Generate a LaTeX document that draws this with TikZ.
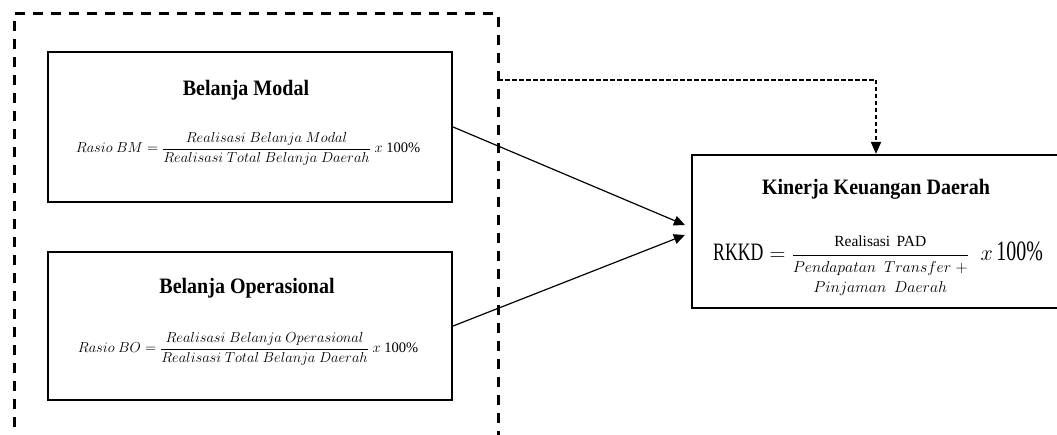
\RequirePackage{fix-cm}
\documentclass[tikz,border=0pt]{standalone}
\usepackage{amsmath}
\usepackage{fontspec}
\setmainfont{Liberation Serif}
\newfontfamily\ttlfont[FakeStretch=0.91]{Liberation Serif}
\newfontfamily\condfont[FakeStretch=0.71]{Liberation Serif}
\usetikzlibrary{arrows.meta}
\tikzset{
  varbox/.style={draw, line width=2.2pt, minimum width=404pt, inner sep=0pt},
  ttl/.style={font=\ttlfont\bfseries\fontsize{22}{26}\selectfont, inner sep=0pt},
  frm/.style={font=\fontsize{14.5}{17}\selectfont, inner sep=0pt},
  arr/.style={line width=1.2pt, -{Triangle[length=11pt,width=10pt]}},
  dasharr/.style={line width=1.9pt, dash pattern=on 4.5pt off 2.5pt, -{Triangle[length=12pt,width=10pt]}},
  grpline/.style={line width=3pt, dash pattern=on 10pt off 8pt},
}
\begin{document}
\begin{tikzpicture}[x=1pt,y=-1pt]
\useasboundingbox (0,0) rectangle (1057,435);
% outer dashed group
\draw[grpline] (14,445) -- (14,14) -- (498,14) -- (498,445);
\coordinate (gR) at (498,80);
% boxes
\node[varbox, minimum height=150pt] (bm) at (250,127) {};
\node[varbox, minimum height=148pt] (bo) at (250,326) {};
\node[draw, line width=2.2pt, minimum width=368pt, minimum height=153pt, inner sep=0pt] (kk) at (876,231.5) {};
% texts
\node[ttl, anchor=base] (bmt) at (246,96) {Belanja Modal};
\node[frm, anchor=base] (bmf) at (248,152.5) {$Rasio\ BM = \dfrac{Realisasi\ Belanja\ Modal}{Realisasi\ Total\ Belanja\ Daerah}\ x\ \text{100\%}$};
\node[ttl, anchor=base] (bot) at (247,294) {Belanja Operasional};
\node[frm, anchor=base] (bof) at (248,352.5) {$Rasio\ BO = \dfrac{Realisasi\ Belanja\ Operasional}{Realisasi\ Total\ Belanja\ Daerah}\ x\ \text{100\%}$};
\node[ttl, anchor=base] (kkt) at (876,195) {Kinerja Keuangan Daerah};
\node[anchor=base west, inner sep=0pt, font=\fontsize{22}{26}\selectfont] (kkf) at (713,261)
  {$\text{\condfont\fontsize{25}{28}\selectfont RKKD} = \dfrac{\text{\fontsize{15.5}{17}\selectfont Realisasi\hspace{2.5pt} PAD}}{\text{\fontsize{15.8}{20}\selectfont$\begin{array}{@{}c@{}}Pendapatan\ \ Transfer\;{+}\\ Pinjaman\ \ Daerah\end{array}$}}\;\ x\,\text{\condfont\fontsize{28}{30}\selectfont 100\%}$};
% connectors
\draw[arr] (bm.east) -- ([xshift=-6pt,yshift=6.5pt]kk.west);
\draw[arr] (bo.east) -- ([xshift=-6pt,yshift=-3.5pt]kk.west);
\draw[dasharr] (gR) -| (kk.north);
\end{tikzpicture}
\end{document}
